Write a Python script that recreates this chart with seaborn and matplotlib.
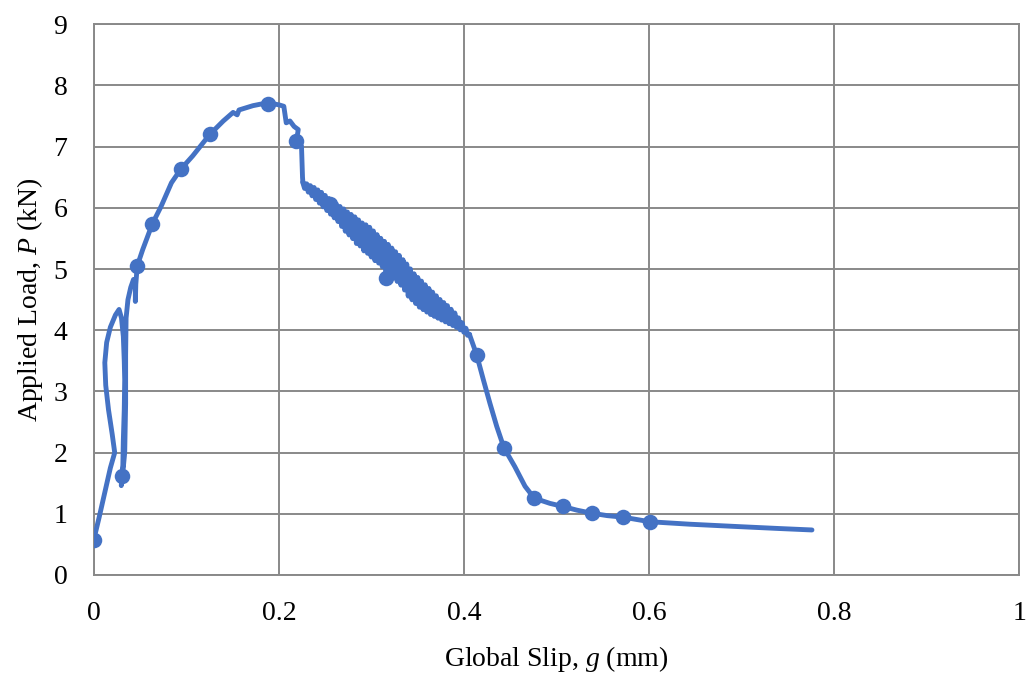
import numpy as np
import pandas as pd
import matplotlib
matplotlib.use("Agg")
import matplotlib.pyplot as plt
import seaborn as sns

# ---- data ----
# initial loop and rise to peak
x_rise = [0.0, 0.006, 0.012, 0.018, 0.0227, 0.020, 0.016, 0.013, 0.012, 0.014, 0.018,
          0.0235, 0.0274, 0.030, 0.032, 0.033, 0.0335, 0.033, 0.032, 0.0315, 0.0306,
          0.0298, 0.031, 0.0335, 0.0345, 0.0345, 0.035, 0.037, 0.040, 0.043, 0.045,
          0.045, 0.0455, 0.047, 0.053, 0.0634, 0.073, 0.084, 0.094, 0.107, 0.1254,
          0.140, 0.1506, 0.155, 0.157, 0.172, 0.1885, 0.201, 0.2054, 0.208, 0.212,
          0.2165, 0.221, 0.219, 0.2245, 0.2256]
y_rise = [0.57, 0.95, 1.35, 1.75, 2.00, 2.30, 2.70, 3.10, 3.47, 3.80, 4.05,
          4.25, 4.34, 4.20, 3.90, 3.50, 3.19, 2.70, 2.20, 1.80, 1.61,
          1.46, 1.60, 2.00, 2.80, 3.60, 4.20, 4.50, 4.70, 4.83, 4.80,
          4.47, 4.75, 5.05, 5.32, 5.74, 6.03, 6.41, 6.63, 6.85, 7.20,
          7.42, 7.56, 7.52, 7.60, 7.67, 7.72, 7.68, 7.66, 7.39, 7.42,
          7.33, 7.28, 7.09, 7.01, 6.50]

# noisy softening branch (alternating upper / lower readings of the band)
x_noisy = [0.226, 0.228, 0.230, 0.232, 0.234, 0.236, 0.238, 0.240, 0.242, 0.244,
           0.246, 0.248, 0.250, 0.252, 0.254, 0.256, 0.258, 0.260, 0.262, 0.264,
           0.266, 0.268, 0.270, 0.272, 0.274, 0.276, 0.278, 0.280, 0.282, 0.284,
           0.286, 0.288, 0.290, 0.292, 0.294, 0.296, 0.298, 0.300, 0.302, 0.304,
           0.306, 0.308, 0.310, 0.312, 0.314, 0.316, 0.318, 0.320, 0.322, 0.324,
           0.326, 0.328, 0.330, 0.332, 0.334, 0.336, 0.338, 0.340, 0.342, 0.344,
           0.346, 0.348, 0.350, 0.352, 0.354, 0.356, 0.358, 0.360, 0.362, 0.364,
           0.366, 0.368, 0.370, 0.372, 0.374, 0.376, 0.378, 0.380, 0.382, 0.384,
           0.386, 0.388, 0.390, 0.392, 0.394, 0.396, 0.398, 0.400, 0.402, 0.404,
           0.406]
y_noisy = [6.42, 6.32, 6.39, 6.26, 6.36, 6.20, 6.33, 6.14, 6.29, 6.08,
           6.25, 6.02, 6.20, 5.96, 6.15, 5.90, 6.10, 5.84, 6.06, 5.78,
           6.02, 5.70, 5.98, 5.62, 5.93, 5.56, 5.89, 5.50, 5.85, 5.42,
           5.80, 5.38, 5.75, 5.30, 5.72, 5.26, 5.68, 5.20, 5.62, 5.14,
           5.56, 5.10, 5.50, 5.04, 5.45, 4.90, 5.40, 4.95, 5.34, 4.86,
           5.28, 4.80, 5.22, 4.74, 5.15, 4.66, 5.08, 4.56, 5.00, 4.50,
           4.92, 4.44, 4.86, 4.38, 4.80, 4.34, 4.74, 4.30, 4.68, 4.26,
           4.62, 4.23, 4.56, 4.20, 4.50, 4.17, 4.45, 4.14, 4.40, 4.11,
           4.34, 4.08, 4.28, 4.05, 4.20, 4.01, 4.12, 3.97, 4.03, 3.92,
           3.93]

# final drop and residual tail
x_tail = [0.406, 0.4137, 0.421, 0.428, 0.4354, 0.4432, 0.455, 0.466, 0.476, 0.493,
          0.507, 0.522, 0.538, 0.555, 0.572, 0.601, 0.644, 0.698, 0.740, 0.776]
y_tail = [3.93, 3.60, 3.19, 2.81, 2.43, 2.08, 1.77, 1.45, 1.255, 1.17,
          1.12, 1.06, 1.01, 0.97, 0.945, 0.87, 0.83, 0.79, 0.76, 0.736]

# marker points
x_marks = [0.0, 0.0306, 0.047, 0.0634, 0.094, 0.1254, 0.1885, 0.219, 0.255, 0.3157,
           0.4137, 0.4432, 0.476, 0.507, 0.538, 0.572, 0.601]
y_marks = [0.57, 1.61, 5.05, 5.74, 6.63, 7.21, 7.70, 7.09, 6.06, 4.86,
           3.60, 2.08, 1.255, 1.12, 1.01, 0.945, 0.86]

x_ticks = [0, 0.2, 0.4, 0.6, 0.8, 1]
x_ticklabels = ["0", "0.2", "0.4", "0.6", "0.8", "1"]
y_ticks = list(range(0, 10))

# ---- style ----
sns.set_theme(style="white")
plt.rcParams["font.family"] = ["Liberation Serif", "DejaVu Serif"]
plt.rcParams["mathtext.fontset"] = "custom"
plt.rcParams["mathtext.rm"] = "Liberation Serif"
plt.rcParams["mathtext.it"] = "Liberation Serif:italic"

blue = "#4472C4"
grid_c = "#898989"

first = pd.DataFrame({"slip": x_rise + [x_noisy[0]], "load": y_rise + [y_noisy[0]]})
noisy = pd.DataFrame({"slip": x_noisy, "load": y_noisy})
tail = pd.DataFrame({"slip": x_tail, "load": y_tail})
marks = pd.DataFrame({"slip": x_marks, "load": y_marks})

fig = plt.figure(figsize=(10.28, 6.79), dpi=100)
ax = fig.add_axes([93.7 / 1028, 1 - 575 / 679, (1019.3 - 93.7) / 1028, (575 - 24.3) / 679])

for seg, lw in ((first, 3.5), (noisy, 3.8), (tail, 3.5)):
    sns.lineplot(data=seg, x="slip", y="load", sort=False, estimator=None,
                 color=blue, linewidth=lw, ax=ax, zorder=3)
sns.scatterplot(data=marks, x="slip", y="load", color=blue, s=125,
                edgecolor=blue, linewidth=0, ax=ax, zorder=4)

ax.set_xlim(0, 1)
ax.set_ylim(0, 9)
ax.set_xticks(x_ticks)
ax.set_xticklabels(x_ticklabels)
ax.set_yticks(y_ticks)
ax.grid(True, color=grid_c, linewidth=1.4, zorder=0)
ax.set_axisbelow(True)
for s in ax.spines.values():
    s.set_visible(True)
    s.set_color(grid_c)
    s.set_linewidth(1.4)
ax.tick_params(axis="both", length=0, pad=19, labelsize=20, colors="black")

ax.set_xlabel("Global Slip, $g$ (mm)", fontsize=20, labelpad=13, color="black")
ax.set_ylabel("Applied Load, $P$ (kN)", fontsize=20, labelpad=6, color="black")

fig.savefig("out.png", dpi=100)
